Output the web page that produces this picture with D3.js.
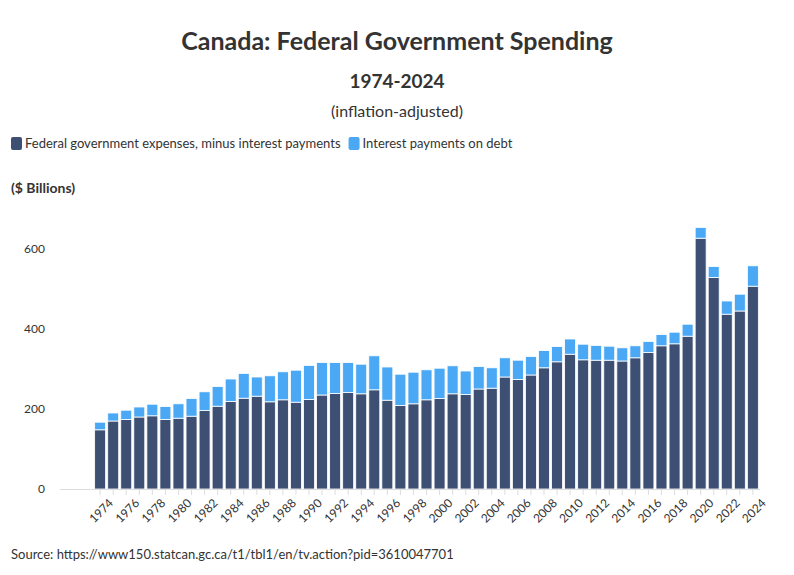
<!DOCTYPE html>
<html><head><meta charset="utf-8">
<script src="https://cdn.jsdelivr.net/npm/d3@7"></script>
<style>body{margin:0;background:#fff;font-family:Lato,"Open Sans",sans-serif;}</style>
</head><body><svg id="c" width="794" height="575"></svg>
<script>
const years = d3.range(1974, 2025).map(String);
const totals = [167,190,197,205,212,206,213,226,243,256,275,289,280,283,293,297,309,316,316,316,312,333,305,287,292,298,302,308,295,306,303,328,322,331,346,356,375,362,359,357,353,358,369,386,392,412,654,556,470,487,558];
const expenses = [148,170,174,180,183,174,177,182,196,207,219,227,232,218,223,217,224,235,239,241,238,248,222,209,213,223,226,238,236,250,252,280,274,285,303,318,337,323,322,322,320,328,341,358,363,382,627,529,437,445,507];
const interest = totals.map((t,i)=>t-expenses[i]);
const yTicks = [0,200,400,600];
const seriesNames = ["Federal government expenses, minus interest payments","Interest payments on debt"];
const colors = ["#3d5073","#4aa8f5"];

const svg = d3.select("#c");
const x = d3.scaleBand().domain(years).range([94,759]).paddingInner(0.16).paddingOuter(0.05);
const y = d3.scaleLinear().domain([0,600]).range([489,249]);

svg.append("text").attr("x",397).attr("y",50).attr("text-anchor","middle").attr("font-size",25).attr("font-weight","bold").attr("fill","#333").text("Canada: Federal Government Spending");
svg.append("text").attr("x",397).attr("y",88).attr("text-anchor","middle").attr("font-size",19).attr("font-weight","bold").attr("fill","#333").text("1974-2024");
svg.append("text").attr("x",397).attr("y",117).attr("text-anchor","middle").attr("font-size",16).attr("fill","#333").text("(inflation-adjusted)");

// legend
let lx = 11;
seriesNames.forEach((n,i)=>{
  svg.append("rect").attr("x",lx).attr("y",137).attr("width",11).attr("height",13).attr("rx",2).attr("fill",colors[i]);
  const t = svg.append("text").attr("x",lx+14).attr("y",148).attr("font-size",13).attr("fill","#333").text(n);
  lx += 14 + t.node().getComputedTextLength() + 8;
});
svg.append("text").attr("x",11).attr("y",193).attr("font-size",14).attr("font-weight","bold").attr("fill","#333").text("($ Billions)");

// y labels
svg.selectAll(".yl").data(yTicks).join("text").attr("x",45).attr("y",d=>y(d)+4).attr("text-anchor","end").attr("font-size",12).attr("fill","#333").text(d=>d);

const stack = years.map((yr,i)=>({yr,e:expenses[i],it:interest[i]}));
svg.selectAll(".b1").data(stack).join("rect").attr("x",d=>x(d.yr)).attr("width",x.bandwidth())
  .attr("y",d=>y(d.e)).attr("height",d=>y(0)-y(d.e)).attr("fill",colors[0]).attr("stroke","#fff").attr("stroke-width",0.8);
svg.selectAll(".b2").data(stack).join("rect").attr("x",d=>x(d.yr)).attr("width",x.bandwidth())
  .attr("y",d=>y(d.e+d.it)).attr("height",d=>y(d.e)-y(d.e+d.it)).attr("fill",colors[1]).attr("stroke","#fff").attr("stroke-width",0.8);

svg.append("line").attr("x1",60).attr("x2",760).attr("y1",489.5).attr("y2",489.5).attr("stroke","#ddd");
const xa = svg.append("g").attr("transform","translate(0,490)").call(d3.axisBottom(x).tickSize(5).tickFormat(d=>(+d)%2===0?d:""));
xa.select(".domain").remove();
xa.selectAll(".tick line").attr("stroke","#ddd");
xa.selectAll("text").attr("font-size",12).attr("fill","#333").attr("font-family","Lato,sans-serif")
  .attr("text-anchor","end").attr("transform","translate(4,4) rotate(-45)").attr("dy","0.5em").attr("dx","0");

svg.append("text").attr("x",11).attr("y",559).attr("font-size",13).attr("fill","#333").text("Source: https://www150.statcan.gc.ca/t1/tbl1/en/tv.action?pid=3610047701");
</script></body></html>
